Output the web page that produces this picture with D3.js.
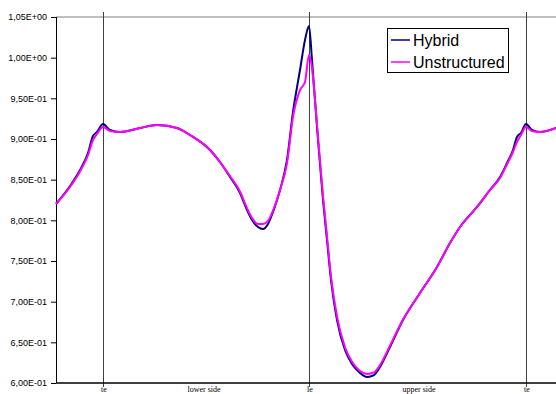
<!DOCTYPE html>
<html>
<head>
<meta charset="utf-8">
<script src="https://cdn.jsdelivr.net/npm/d3@7"></script>
<style>
  body { margin: 0; background: #fff; }
  svg { display: block; }
</style>
</head>
<body>
<div id="chart"></div>
<script>
// arc position along the surface (te -> lower side -> le -> upper side -> te)
const positions = [0, 14, 24, 32, 37, 41, 47, 54, 64, 84, 101, 121, 134, 154, 164, 174, 184, 191, 196, 202,
  207, 212, 217, 224, 231, 237, 244, 249, 253, 256, 259, 262, 267, 271, 275, 281, 289, 296, 304, 311,
  318, 324, 334, 347, 364, 381, 394, 404, 421, 434, 444, 451, 457, 461, 465, 470, 476, 484, 500];

const hybrid = [0.8201, 0.8422, 0.8619, 0.8828, 0.9037, 0.9086, 0.9184, 0.9111, 0.9086, 0.9135, 0.9172, 0.9135,
  0.9049, 0.8865, 0.8717, 0.8533, 0.8336, 0.8127, 0.8004, 0.7918, 0.7893, 0.7955, 0.8102, 0.8373, 0.8742,
  0.9332, 0.9848, 1.0217, 1.0389, 0.9971, 0.9480, 0.8988, 0.8250, 0.7758, 0.7266, 0.6775, 0.6406, 0.6234,
  0.6123, 0.6074, 0.6098, 0.6197, 0.6443, 0.6775, 0.7107, 0.7426, 0.7721, 0.7918, 0.8164, 0.8373, 0.8533,
  0.8705, 0.8865, 0.9025, 0.9074, 0.9184, 0.9111, 0.9086, 0.9135];

const unstructured = [0.8201, 0.8410, 0.8600, 0.8800, 0.8988, 0.9062, 0.9148, 0.9098, 0.9086, 0.9135, 0.9172, 0.9135,
  0.9049, 0.8865, 0.8717, 0.8545, 0.8355, 0.8150, 0.8030, 0.7955, 0.7955, 0.7992, 0.8120, 0.8373, 0.8700,
  0.9271, 0.9602, 0.9701, 1.0033, 0.9873, 0.9480, 0.9030, 0.8300, 0.7810, 0.7310, 0.6820, 0.6440, 0.6260,
  0.6148, 0.6111, 0.6130, 0.6220, 0.6460, 0.6780, 0.7107, 0.7426, 0.7721, 0.7918, 0.8164, 0.8373, 0.8520,
  0.8690, 0.8840, 0.8963, 0.9049, 0.9148, 0.9098, 0.9086, 0.9135];

const yTicks = [0.60, 0.65, 0.70, 0.75, 0.80, 0.85, 0.90, 0.95, 1.00, 1.05];
const markers = [{ label: "te", pos: 47 }, { label: "le", pos: 253 }, { label: "te", pos: 470 }];
const sideLabels = [{ label: "lower side", pos: 147 }, { label: "upper side", pos: 362 }];

const series = [
  { name: "Hybrid", values: hybrid, color: "#000080" },
  { name: "Unstructured", values: unstructured, color: "#ff00ff" }
];

const width = 556, height = 394;
const plotLeft = 56, plotRight = 556, plotTop = 17, plotBottom = 383;

const svg = d3.select("#chart").append("svg")
  .attr("width", width)
  .attr("height", height);

const x = d3.scaleLinear().domain([0, 500]).range([plotLeft, plotRight]);
const y = d3.scaleLinear().domain([0.60, 1.05]).range([plotBottom, plotTop]);

// excel style scientific label: 9,50E-01
function sci(v) {
  let e = Math.floor(Math.log10(v) + 1e-9);
  let m = v / Math.pow(10, e);
  const sign = e < 0 ? "-" : "+";
  return m.toFixed(2).replace(".", ",") + "E" + sign + String(Math.abs(e)).padStart(2, "0");
}

// top border
svg.append("line")
  .attr("x1", plotLeft).attr("x2", plotRight)
  .attr("y1", y(1.05)).attr("y2", y(1.05))
  .attr("stroke", "#808080").attr("stroke-width", 1);

// te / le markers
svg.append("g").selectAll("line")
  .data(markers)
  .enter().append("line")
  .attr("x1", d => Math.round(x(d.pos)) + 0.5)
  .attr("x2", d => Math.round(x(d.pos)) + 0.5)
  .attr("y1", plotTop - 5)
  .attr("y2", plotBottom + 4)
  .attr("stroke", "#404040")
  .attr("stroke-width", 1);

// y axis
const yAxis = svg.append("g")
  .attr("transform", "translate(" + plotLeft + ",0)")
  .call(d3.axisLeft(y).tickValues(yTicks).tickSize(5).tickPadding(4).tickFormat(sci));
yAxis.select(".domain").remove();
yAxis.selectAll("text")
  .style("font-family", "Liberation Sans, Arial, sans-serif")
  .style("font-size", "9px")
  .attr("fill", "#000");
yAxis.selectAll("line").attr("stroke", "#000");

svg.append("line")
  .attr("x1", plotLeft + 0.5).attr("x2", plotLeft + 0.5)
  .attr("y1", plotTop).attr("y2", plotBottom)
  .attr("stroke", "#000").attr("stroke-width", 1);

// x axis
svg.append("line")
  .attr("x1", plotLeft).attr("x2", plotRight)
  .attr("y1", plotBottom).attr("y2", plotBottom)
  .attr("stroke", "#000").attr("stroke-width", 1.5);

svg.append("g").selectAll("text")
  .data(markers.concat(sideLabels))
  .enter().append("text")
  .attr("x", d => x(d.pos) + 1)
  .attr("y", plotBottom + 9)
  .attr("text-anchor", "middle")
  .style("font-family", "Liberation Serif, Times New Roman, serif")
  .style("font-size", "8px")
  .attr("fill", "#000")
  .text(d => d.label);

// curves
const line = d3.line()
  .x(d => x(d[0]))
  .y(d => y(d[1]))
  .curve(d3.curveMonotoneX);

svg.append("g").selectAll("path")
  .data(series)
  .enter().append("path")
  .attr("d", s => line(positions.map((p, i) => [p, s.values[i]])))
  .attr("fill", "none")
  .attr("stroke", s => s.color)
  .attr("stroke-width", 2)
  .attr("stroke-linejoin", "round");

// legend
const legend = svg.append("g").attr("transform", "translate(387,28)");
legend.append("rect")
  .attr("x", 0.5).attr("y", 0.5)
  .attr("width", 121).attr("height", 44)
  .attr("fill", "#fff")
  .attr("stroke", "#000");

const items = legend.selectAll("g")
  .data(series)
  .enter().append("g")
  .attr("transform", (d, i) => "translate(0," + (12 + i * 22) + ")");
items.append("line")
  .attr("x1", 4).attr("x2", 23)
  .attr("y1", 0).attr("y2", 0)
  .attr("stroke", d => d.color)
  .attr("stroke-width", 1.5);
items.append("text")
  .attr("x", 26)
  .attr("y", 6)
  .style("font-family", "Liberation Sans, Arial, sans-serif")
  .style("font-size", "16px")
  .attr("fill", "#000")
  .text(d => d.name);
</script>
</body>
</html>
